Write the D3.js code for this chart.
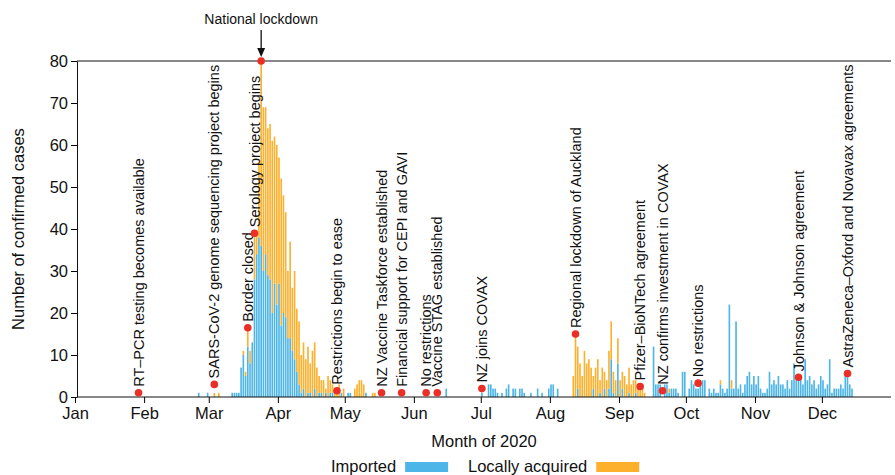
<!DOCTYPE html>
<html>
<head>
<meta charset="utf-8">
<script src="https://cdn.jsdelivr.net/npm/d3@7"></script>
<style>
  body { margin: 0; background: #fff; }
  svg { display: block; font-family: "Liberation Sans", Arial, Helvetica, sans-serif; }
</style>
</head>
<body>
<div id="chart"></div>
<script>
// daily case counts, one line per month, starting 1 Feb 2020
var startDate = new Date(2020, 1, 1);
var imported = [
  0,0,0,0,0,0,0,0,0,0, 0,0,0,0,0,0,0,0,0,0, 0,0,0,0,1,0,0,0,1,            // Feb
  0,0,0,0,0,0,0,0,0,0, 1,1,1,1,7,10,5,12,8,13, 28,34,38,36,30,34,29,28,20,27, 22, // Mar
  27,17,20,19,14,14,11,9,6,3, 1,2,0,1,1,0,2,0,1,1, 0,1,0,1,1,0,0,0,1,0,   // Apr
  0,1,1,0,0,0,0,0,0,1, 0,0,0,0,0,0,0,0,0,0, 0,0,0,0,0,0,0,0,0,0, 0,       // May
  0,0,0,0,0,0,0,0,0,0, 0,0,0,0,2,0,0,0,0,0, 0,0,0,0,0,0,0,0,0,0,          // Jun
  1,0,0,3,3,2,2,1,0,1, 0,2,3,0,2,2,0,2,2,1, 0,0,1,0,0,2,0,1,0,0, 2,       // Jul
  3,3,0,2,0,0,0,0,0,0, 0,0,2,0,0,0,0,0,0,2, 0,0,1,0,2,0,2,9,1,0, 8,       // Aug
  0,2,0,0,1,0,0,1,0,0, 0,0,0,0,0,12,3,3,3,0, 3,3,1,2,2,2,1,0,6,6,         // Sep
  0,2,4,3,2,2,3,4,4,0, 2,1,2,1,1,3,2,1,2,22, 2,2,18,2,3,1,3,5,6,3, 5,     // Oct
  3,5,2,1,1,2,6,3,4,3, 5,3,3,2,4,2,4,8,4,4, 5,3,9,4,5,3,4,2,3,5,          // Nov
  4,2,3,9,1,2,2,2,3,2, 5,5,3,2,0,0,0,0,0,0, 0,0,0,0,0,0,0,0,0,0, 0        // Dec
];
var local = [
  0,0,0,0,0,0,0,0,0,0, 0,0,0,0,0,0,0,0,0,0, 0,0,0,0,0,0,0,0,0,            // Feb
  0,0,1,0,1,0,0,0,0,0, 0,0,0,0,0,1,1,4,3,0, 11,5,18,44,39,35,35,37,41,35, 38, // Mar
  30,35,28,25,16,23,15,21,15,15, 9,11,9,11,7,11,11,7,4,3, 4,1,5,3,2,2,1,3,0,2, // Apr
  0,0,0,0,2,3,4,4,3,0, 0,0,1,1,0,0,0,0,0,0, 0,0,0,0,0,0,0,0,0,0, 0,       // May
  0,0,0,0,0,0,0,0,0,0, 0,0,0,0,0,0,0,0,0,0, 0,0,0,0,0,0,0,0,0,0,          // Jun
  0,0,0,0,0,0,0,0,0,0, 0,0,0,0,0,0,0,0,0,0, 0,0,0,0,0,0,0,0,0,0, 0,       // Jul
  0,0,0,0,0,0,0,0,0,0, 5,15,10,8,5,11,8,9,7,3, 7,9,3,7,4,4,9,9,5,4, 6,    // Aug
  4,4,5,3,6,3,4,3,2,2, 2,1,0,0,0,0,0,0,0,0, 0,0,1,0,0,0,0,0,0,0,          // Sep
  0,0,0,0,0,0,0,0,0,0, 0,0,0,0,0,1,0,0,0,0, 2,0,0,0,0,0,0,0,0,0, 0,       // Oct
  0,0,0,0,0,0,0,0,0,0, 0,0,0,0,0,0,0,0,0,0, 0,0,0,0,0,0,0,0,0,0,          // Nov
  0,0,0,0,0,0,0,0,0,0, 0,0,0,0,0,0,0,0,0,0, 0,0,0,0,0,0,0,0,0,0, 0        // Dec
];

var monthLabels = ['Jan','Feb','Mar','Apr','May','Jun','Jul','Aug','Sep','Oct','Nov','Dec'];
var yTicks = [0, 10, 20, 30, 40, 50, 60, 70, 80];
var seriesKeys = ['imported', 'local'];
var seriesNames = ['Imported', 'Locally acquired'];

// key events: date, height of the marker, label
var eventDates = ['2020-01-29','2020-03-03','2020-03-18','2020-03-21','2020-03-24','2020-04-27',
  '2020-05-17','2020-05-26','2020-06-06','2020-06-11','2020-07-01','2020-08-12',
  '2020-09-10','2020-09-20','2020-10-06','2020-11-20','2020-12-12'];
var eventValues = [1, 3, 16.5, 39, 80, 1.5, 1, 1, 1, 1, 2, 15, 2.5, 1.5, 3.3, 4.7, 5.6];
var eventLabels = ['RT\u2013PCR testing becomes available',
  'SARS-CoV-2 genome sequencing project begins', 'Border closed', 'Serology project begins',
  'National lockdown', 'Restrictions begin to ease', 'NZ Vaccine Taskforce established',
  'Financial support for CEPI and GAVI', 'No restrictions', 'Vaccine STAG established',
  'NZ joins COVAX', 'Regional lockdown of Auckland', 'Pfizer\u2013BioNTech agreement',
  'NZ confirms investment in COVAX', 'No restrictions', 'Johnson & Johnson agreement',
  'AstraZeneca\u2013Oxford and Novavax agreements'];

var w = 895;
var h = 475;
var padL = 77, padR = 891, padT = 61, padB = 397;
var blue = '#4db5e7';
var orange = '#fcb02b';
var red = '#ec2f26';

var xScale = d3.scaleTime()
  .domain([new Date(2020, 0, 1), new Date(2021, 0, 1)])
  .range([75, padR]);
var yScale = d3.scaleLinear()
  .domain([0, 80]).range([padB, padT]);
var dayW = xScale(new Date(2020, 0, 2)) - xScale(new Date(2020, 0, 1));

var rows = imported.map(function(v, i) {
  return { date: d3.timeDay.offset(startDate, i), imported: v, local: local[i] };
});
var stacked = d3.stack().keys(seriesKeys)(rows);
var colors = d3.scaleOrdinal().domain(seriesKeys).range([blue, orange]);

var svg = d3.select('#chart')
  .append('svg')
  .attr('width', w)
  .attr('height', h);

// bars
svg.append('g').selectAll('g')
  .data(stacked)
  .enter()
  .append('g')
  .attr('fill', function(d) { return colors(d.key); })
  .selectAll('rect')
  .data(function(d) { return d.filter(function(p) { return p[1] > p[0]; }); })
  .enter()
  .append('rect')
  .attr('x', function(d) { return xScale(d.data.date) + 0.3; })
  .attr('width', dayW - 0.6)
  .attr('y', function(d) { return yScale(d[1]); })
  .attr('height', function(d) { return yScale(d[0]) - yScale(d[1]); });

// axes
var yAxis = d3.axisLeft(yScale).tickValues(yTicks).tickSize(6).tickSizeOuter(0).tickPadding(3);
var gy = svg.append('g').attr('transform', 'translate(' + padL + ',0)').call(yAxis);
gy.selectAll('text').attr('font-size', 16.5).attr('fill', '#111');
gy.select('.domain').attr('stroke', '#111');

var monthDates = monthLabels.map(function(m, i) { return new Date(2020, i, 1); });
var xAxis = d3.axisBottom(xScale).tickValues(monthDates)
  .tickFormat(function(d) { return monthLabels[d.getMonth()]; })
  .tickSize(6).tickPadding(4);
var gx = svg.append('g').attr('transform', 'translate(0,' + padB + ')').call(xAxis);
gx.select('.domain').remove();
gx.selectAll('text').attr('font-size', 16.5).attr('fill', '#111');

svg.append('line').attr('x1', padL).attr('x2', padR).attr('y1', padB).attr('y2', padB)
  .attr('stroke', '#111');
svg.append('line').attr('x1', padL).attr('x2', padR).attr('y1', padT).attr('y2', padT)
  .attr('stroke', '#111');

// axis titles
svg.append('text')
  .attr('transform', 'translate(24,' + ((padT + padB) / 2) + ') rotate(-90)')
  .attr('text-anchor', 'middle')
  .attr('font-size', 16.5)
  .attr('fill', '#111')
  .text('Number of confirmed cases');
svg.append('text')
  .attr('x', 484).attr('y', 447)
  .attr('text-anchor', 'middle')
  .attr('font-size', 16.5)
  .attr('fill', '#111')
  .text('Month of 2020');

// event markers
var parse = d3.timeParse('%Y-%m-%d');
var events = eventDates.map(function(d, i) {
  return { date: parse(d), value: eventValues[i], label: eventLabels[i] };
});
var cx = function(d) { return xScale(d.date) + dayW / 2; };

svg.selectAll('.ev-label')
  .data(events.filter(function(d) { return d.value < 80; }))
  .enter()
  .append('text')
  .attr('class', 'ev-label')
  .attr('transform', function(d) {
    return 'translate(' + cx(d) + ',' + (yScale(d.value) - 6) + ') rotate(-90)';
  })
  .attr('dy', '0.35em')
  .attr('font-size', 14.5)
  .attr('fill', '#111')
  .text(function(d) { return d.label; });

// national lockdown: label on top with arrow
var peak = events.filter(function(d) { return d.value >= 80; })[0];
svg.append('text')
  .attr('x', cx(peak)).attr('y', 24)
  .attr('text-anchor', 'middle')
  .attr('font-size', 14)
  .attr('fill', '#111')
  .text(peak.label);
svg.append('line')
  .attr('x1', cx(peak)).attr('x2', cx(peak))
  .attr('y1', 30).attr('y2', 50)
  .attr('stroke', '#111').attr('stroke-width', 1.3);
svg.append('path')
  .attr('d', 'M' + (cx(peak) - 4) + ',48L' + (cx(peak) + 4) + ',48L' + cx(peak) + ',57Z')
  .attr('fill', '#111');

svg.selectAll('.ev-dot')
  .data(events)
  .enter()
  .append('circle')
  .attr('class', 'ev-dot')
  .attr('cx', cx)
  .attr('cy', function(d) { return yScale(d.value); })
  .attr('r', 3.8)
  .attr('fill', red);

// legend
var legendX = [331, 468];
var legend = svg.append('g').selectAll('g')
  .data(seriesKeys)
  .enter()
  .append('g');
legend.append('text')
  .attr('x', function(d, i) { return legendX[i]; })
  .attr('y', 472)
  .attr('font-size', 16.5)
  .attr('fill', '#111')
  .text(function(d, i) { return seriesNames[i]; });
legend.append('rect')
  .attr('x', function(d, i) {
    return legendX[i] + this.parentNode.querySelector('text').getComputedTextLength() + 9;
  })
  .attr('y', 462)
  .attr('width', 43)
  .attr('height', 10)
  .attr('fill', function(d) { return colors(d); });
</script>
</body>
</html>
